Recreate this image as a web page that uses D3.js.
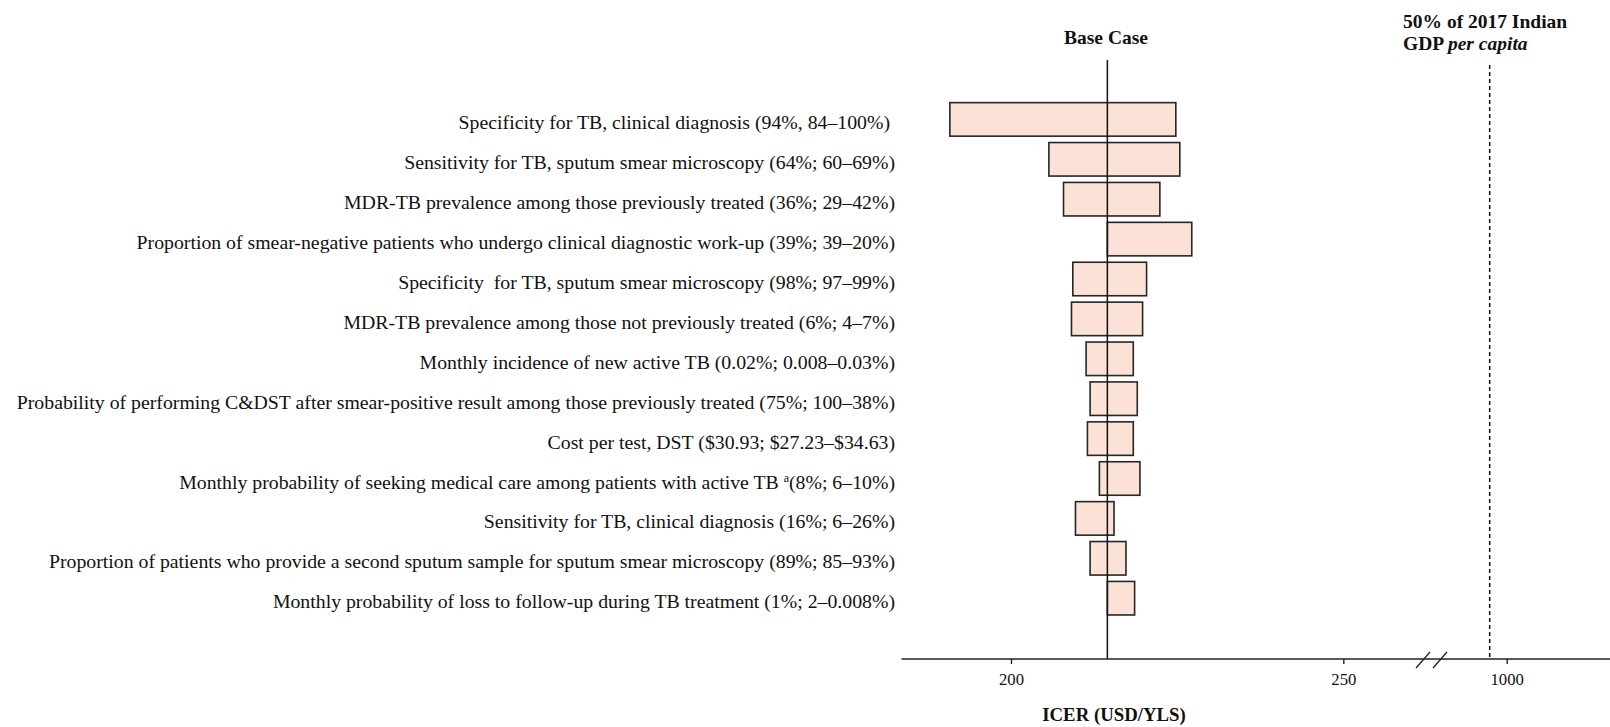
<!DOCTYPE html>
<html>
<head>
<meta charset="utf-8">
<script src="https://cdn.jsdelivr.net/npm/d3@7"></script>
<style>
  html, body { margin: 0; padding: 0; background: #ffffff; }
  svg { display: block; font-family: "Liberation Serif", "Times New Roman", serif; }
</style>
</head>
<body>
<svg id="chart" width="1610" height="727"></svg>
<script>
// One-way sensitivity analysis (tornado diagram) of the ICER
const parameters = [
  "Specificity for TB, clinical diagnosis (94%, 84\u2013100%)\u00a0",
  "Sensitivity for TB, sputum smear microscopy (64%; 60\u201369%)",
  "MDR-TB prevalence among those previously treated (36%; 29\u201342%)",
  "Proportion of smear-negative patients who undergo clinical diagnostic work-up (39%; 39\u201320%)",
  "Specificity \u00a0for TB, sputum smear microscopy (98%; 97\u201399%)",
  "MDR-TB prevalence among those not previously treated (6%; 4\u20137%)",
  "Monthly incidence of new active TB (0.02%; 0.008\u20130.03%)",
  "Probability of performing C&DST after smear-positive result among those previously treated (75%; 100\u201338%)",
  "Cost per test, DST ($30.93; $27.23\u2013$34.63)",
  "Monthly probability of seeking medical care among patients with active TB |a|(8%; 6\u201310%)",
  "Sensitivity for TB, clinical diagnosis (16%; 6\u201326%)",
  "Proportion of patients who provide a second sputum sample for sputum smear microscopy (89%; 85\u201393%)",
  "Monthly probability of loss to follow-up during TB treatment (1%; 2\u20130.008%)"
];

// ICER (USD/YLS) at the two ends of each parameter range
const lowerICER = [190.8, 205.7, 207.9, 214.5, 209.3, 209.1, 211.3, 211.9, 211.5, 213.3, 209.7, 211.9, 214.5];
const upperICER = [224.8, 225.4, 222.4, 227.2, 220.4, 219.8, 218.4, 219.0, 218.4, 219.4, 215.5, 217.3, 218.6];

const baseCase = 214.5;
const gdpThreshold = 990;       // 50% of 2017 Indian GDP per capita
const lowTicks = [200, 250];
const highTicks = [1000];

// ---- layout ----
const svg = d3.select("#chart");
const axisY = 659;
const axisX0 = 901.5, axisX1 = 1610;
const labelX = 895;

const xLow = d3.scaleLinear().domain([200, 250]).range([1011, 1343.3]);
const xHigh = d3.scaleLinear().domain([990, 1000]).range([1489.7, 1506.7]);
const y = d3.scaleBand()
  .domain(parameters)
  .range([99.45, 618.15])
  .paddingInner(0.16)
  .paddingOuter(0.08);

const rows = parameters.map((p, i) => ({ label: p, lo: lowerICER[i], hi: upperICER[i] }));

// bars
svg.append("g")
  .selectAll("rect")
  .data(rows)
  .join("rect")
  .attr("x", d => xLow(Math.min(d.lo, d.hi)))
  .attr("y", d => y(d.label))
  .attr("width", d => Math.abs(xLow(d.hi) - xLow(d.lo)))
  .attr("height", y.bandwidth())
  .attr("fill", "#fbe1d6")
  .attr("stroke", "#262626")
  .attr("stroke-width", 1.6);

// parameter labels (with optional superscript marked |x|)
const labels = svg.append("g")
  .attr("font-size", "19.8px")
  .attr("fill", "#111")
  .attr("text-anchor", "end")
  .selectAll("text")
  .data(rows)
  .join("text")
  .attr("x", labelX)
  .attr("y", d => y(d.label) + y.bandwidth() / 2 + 10)
  .style("white-space", "pre");

labels.each(function (d) {
  const parts = d.label.split("|");
  const t = d3.select(this);
  parts.forEach((part, k) => {
    if (k % 2 === 1) {
      t.append("tspan").attr("font-size", "12px").attr("dy", -7).text(part);
    } else {
      const ts = t.append("tspan").text(part);
      if (k > 0) ts.attr("dy", 7);
    }
  });
});

// base case line
svg.append("line")
  .attr("x1", xLow(baseCase)).attr("x2", xLow(baseCase))
  .attr("y1", 60).attr("y2", axisY)
  .attr("stroke", "#111").attr("stroke-width", 1.5);

// threshold line
svg.append("line")
  .attr("x1", xHigh(gdpThreshold)).attr("x2", xHigh(gdpThreshold))
  .attr("y1", 65).attr("y2", axisY)
  .attr("stroke", "#111").attr("stroke-width", 1.5)
  .attr("stroke-dasharray", "4,3");

// axis line with break marks
svg.append("line")
  .attr("x1", axisX0).attr("x2", axisX1)
  .attr("y1", axisY).attr("y2", axisY)
  .attr("stroke", "#222").attr("stroke-width", 1.6);

[[1416, 1430], [1433, 1447]].forEach(([a, b]) => {
  svg.append("line")
    .attr("x1", a).attr("y1", axisY + 9)
    .attr("x2", b).attr("y2", axisY - 7)
    .attr("stroke", "#222").attr("stroke-width", 1.4);
});

// ticks
const lowAxis = d3.axisBottom(xLow).tickValues(lowTicks).tickFormat(d3.format("d")).tickSize(5).tickPadding(9);
const highAxis = d3.axisBottom(xHigh).tickValues(highTicks).tickFormat(d3.format("d")).tickSize(5).tickPadding(9);
[lowAxis, highAxis].forEach(ax => {
  const g = svg.append("g").attr("transform", `translate(0,${axisY})`).call(ax);
  g.select(".domain").remove();
  g.selectAll(".tick line").attr("stroke", "#222").attr("stroke-width", 1.4);
  g.selectAll(".tick text")
    .attr("font-family", "\"Liberation Serif\", \"Times New Roman\", serif")
    .attr("font-size", "16.7px")
    .attr("fill", "#111");
});

// titles
svg.append("text")
  .attr("x", 1106).attr("y", 44)
  .attr("text-anchor", "middle")
  .attr("font-weight", "bold").attr("font-size", "19.5px").attr("fill", "#111")
  .text("Base Case");

const gdp = svg.append("text")
  .attr("x", 1403).attr("y", 27.5)
  .attr("font-weight", "bold").attr("font-size", "19.5px").attr("fill", "#111");
gdp.append("tspan").text("50% of 2017 Indian");
gdp.append("tspan").attr("x", 1403).attr("dy", 22.5).text("GDP ");
gdp.append("tspan").attr("font-style", "italic").text("per capita");

svg.append("text")
  .attr("x", 1114).attr("y", 721)
  .attr("text-anchor", "middle")
  .attr("font-weight", "bold").attr("font-size", "18.8px").attr("fill", "#111")
  .text("ICER (USD/YLS)");
</script>
</body>
</html>
